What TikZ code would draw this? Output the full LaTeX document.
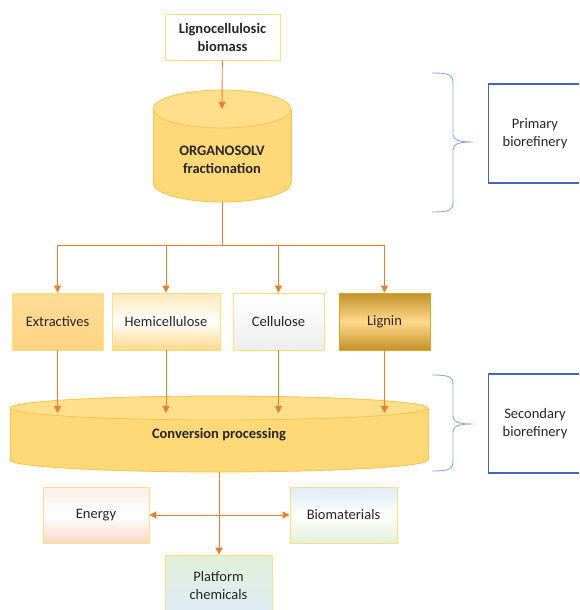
\documentclass[tikz,border=0pt]{standalone}
\usepackage{fontspec}
\setmainfont{Carlito}
\usetikzlibrary{arrows.meta}
\definecolor{flowc}{HTML}{ED7D31}
\definecolor{edgec}{HTML}{FFE07A}
\definecolor{cylc}{HTML}{FFD878}
\definecolor{cyledge}{HTML}{F6C550}
\definecolor{brc}{HTML}{8FAADC}
\definecolor{boxblue}{HTML}{4169B8}
\definecolor{txt}{HTML}{262626}
\definecolor{extc}{HTML}{FFD584}
\definecolor{hemic}{HTML}{FFD98A}
\definecolor{lignc}{HTML}{C4922A}
\definecolor{enerc}{HTML}{F8D8C8}
\definecolor{bluec}{HTML}{DDEBF7}
\definecolor{greenc}{HTML}{E2F0D9}

\begin{document}
\begin{tikzpicture}[x=1pt,y=-1pt,
	every node/.style={font=\fontsize{14.5}{18}\selectfont, text=txt, align=center},
	bold/.style={font=\bfseries\fontsize{14.5}{18}\selectfont},
	box/.style={draw=edgec, line width=0.8pt, minimum width=#1, minimum height=57, inner sep=0pt},
	flow/.style={draw=flowc, line width=0.9pt},
	arr/.style={flow, -{Triangle[length=7pt,width=7pt]}},
	bracket/.style={draw=brc, line width=0.9pt},
	bluebox/.style={draw=boxblue, line width=1.2pt, minimum width=93, minimum height=99}]
		\clip (0,0) rectangle (579,610);
		\node[box=115, minimum height=46, fill=white, bold] (lig) at (222.5,37) {Lignocellulosic\\biomass};
		\filldraw[fill=cylc, draw=cyledge, line width=0.8pt] (222,183) ellipse [x radius=69, y radius=19];
		\fill[cylc] (153,109) rectangle (291,183);
		\draw[cyledge, line width=0.8pt] (153,109) -- (153,183) (291,109) -- (291,183);
		\filldraw[fill=cylc!85!white, draw=cyledge, line width=0.8pt] (222,109) ellipse [x radius=69, y radius=19];
		\node[bold] (org) at (222,160) {ORGANOSOLV\\fractionation};
		\coordinate (orgtop) at (222,109);
		\coordinate (orgbot) at (222,202);
		\coordinate (split) at (222,245);
		\draw[arr] (lig) -- (orgtop);
		\node[box=91, top color=extc!85!white, bottom color=extc] (ext) at (57.5,321.5) {Extractives};
		\node[box=108, top color=hemic!60!white, bottom color=hemic, middle color=white] (hemi) at (166,321.5) {Hemicellulose};
		\node[box=91, top color=white, bottom color=gray!14] (cell) at (278.5,321.5) {Cellulose};
		\node[box=91, draw=lignc!80!yellow, top color=lignc, bottom color=lignc, middle color=hemic] (lign) at (384.5,321.5) {Lignin};
		\draw[flow] (orgbot) -- (split);
		\draw[flow] (split -| ext) -- (split -| lign);
		\foreach \n in {ext,hemi,cell,lign}
			\draw[arr] (split -| \n) -- (\n);
		\filldraw[fill=cylc, draw=cyledge, line width=0.8pt] (219,460) ellipse [x radius=209, y radius=12];
		\fill[cylc] (10,408) rectangle (428,460);
		\draw[cyledge, line width=0.8pt] (10,408) -- (10,460) (428,408) -- (428,460);
		\filldraw[fill=cylc!85!white, draw=cyledge, line width=0.8pt] (219,408) ellipse [x radius=209, y radius=12];
		\node[bold] (conv) at (219,435) {Conversion processing};
		\coordinate (convtop) at (219,413);
		\coordinate (convbot) at (219,472);
		\foreach \n in {ext,hemi,cell,lign}
			\draw[arr] (\n) -- (\n |- convtop);
		\node[box=106, minimum height=56, top color=enerc!40!white, bottom color=enerc, middle color=white] (energy) at (96,515) {Energy};
		\node[box=107, minimum height=56, top color=bluec, bottom color=greenc, middle color=white] (biomat) at (343.5,515) {Biomaterials};
		\node[box=107, minimum height=62, top color=greenc, bottom color=bluec] (plat) at (218.5,586) {Platform\\chemicals};
		\draw[flow, {Triangle[length=7pt,width=7pt]}-{Triangle[length=7pt,width=7pt]}] (energy) -- (biomat);
		\draw[arr] (convbot) -- (convbot |- plat.north);
		\foreach \t/\m/\b in {73/142/212,375/424/471}
			\draw[bracket] (432,\t) .. controls (450,\t) and (453,\t+2) .. (453,\t+10) -- (453,\m-8) .. controls (453,\m-2) and (458,\m) .. (473,\m) .. controls (458,\m) and (453,\m+2) .. (453,\m+8) -- (453,\b-10) .. controls (453,\b-2) and (450,\b) .. (432,\b);
		\node[bluebox] (prim) at (535,133.5) {Primary\\biorefinery};
		\node[bluebox] (sec) at (535,423.5) {Secondary\\biorefinery};
	\end{tikzpicture}
\end{document}
